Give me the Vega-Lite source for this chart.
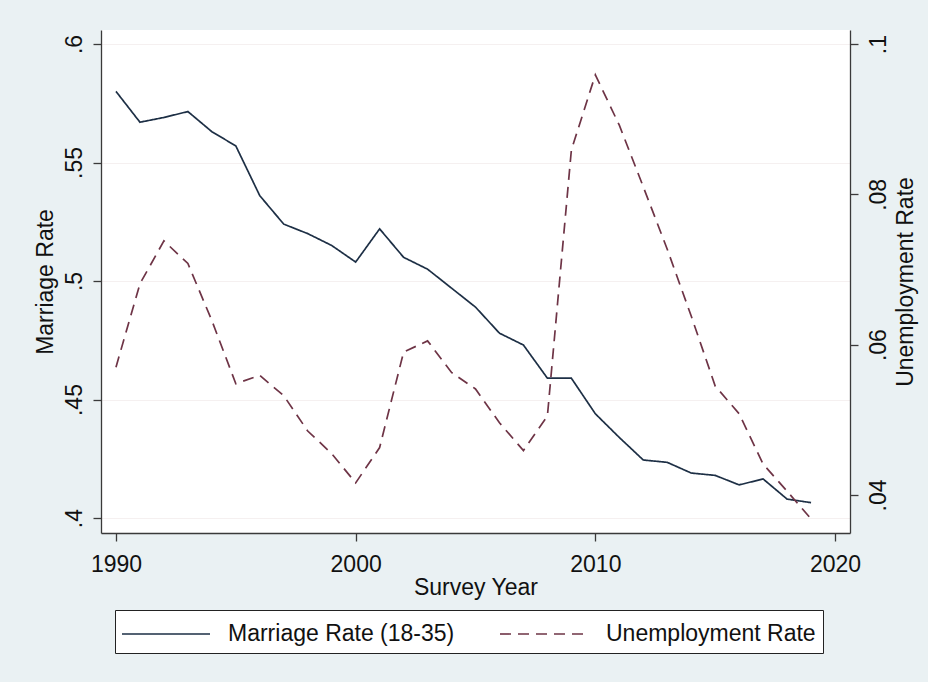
{
  "$schema": "https://vega.github.io/schema/vega-lite/v6.json",
  "width": 749,
  "height": 503,
  "autosize": {"type": "none"},
  "padding": {"left": 101, "top": 30, "right": 78, "bottom": 149},
  "background": "#eaf1f3",
  "config": {
    "view": {"fill": "#ffffff", "stroke": null},
    "font": "Liberation Sans",
    "axis": {
      "labelFont": "Liberation Sans",
      "titleFont": "Liberation Sans",
      "labelFontSize": 23,
      "titleFontSize": 23,
      "titleFontWeight": "normal",
      "labelColor": "#111111",
      "titleColor": "#111111",
      "domainColor": "#3a3a3a",
      "tickColor": "#3a3a3a",
      "domainWidth": 1.3,
      "tickWidth": 1.3,
      "tickSize": 8
    },
    "legend": {
      "orient": "none",
      "legendX": 14,
      "legendY": 580,
      "direction": "horizontal",
      "columns": 2,
      "padding": 7,
      "strokeColor": "#222222",
      "fillColor": "#ffffff",
      "symbolSize": 1024,
      "symbolStrokeWidth": 1.6,
      "symbolOffset": 27,
      "labelOffset": 45,
      "columnPadding": 41,
      "labelFont": "Liberation Sans",
      "labelFontSize": 23,
      "labelColor": "#111111",
      "labelLimit": 400
    }
  },
  "data": {
    "values": [
      {"year": 1990, "series": "Marriage Rate (18-35)", "value": 0.580},
      {"year": 1991, "series": "Marriage Rate (18-35)", "value": 0.567},
      {"year": 1992, "series": "Marriage Rate (18-35)", "value": 0.569},
      {"year": 1993, "series": "Marriage Rate (18-35)", "value": 0.5715},
      {"year": 1994, "series": "Marriage Rate (18-35)", "value": 0.563},
      {"year": 1995, "series": "Marriage Rate (18-35)", "value": 0.557},
      {"year": 1996, "series": "Marriage Rate (18-35)", "value": 0.536},
      {"year": 1997, "series": "Marriage Rate (18-35)", "value": 0.524},
      {"year": 1998, "series": "Marriage Rate (18-35)", "value": 0.520},
      {"year": 1999, "series": "Marriage Rate (18-35)", "value": 0.515},
      {"year": 2000, "series": "Marriage Rate (18-35)", "value": 0.508},
      {"year": 2001, "series": "Marriage Rate (18-35)", "value": 0.522},
      {"year": 2002, "series": "Marriage Rate (18-35)", "value": 0.510},
      {"year": 2003, "series": "Marriage Rate (18-35)", "value": 0.505},
      {"year": 2004, "series": "Marriage Rate (18-35)", "value": 0.497},
      {"year": 2005, "series": "Marriage Rate (18-35)", "value": 0.489},
      {"year": 2006, "series": "Marriage Rate (18-35)", "value": 0.478},
      {"year": 2007, "series": "Marriage Rate (18-35)", "value": 0.473},
      {"year": 2008, "series": "Marriage Rate (18-35)", "value": 0.459},
      {"year": 2009, "series": "Marriage Rate (18-35)", "value": 0.459},
      {"year": 2010, "series": "Marriage Rate (18-35)", "value": 0.444},
      {"year": 2011, "series": "Marriage Rate (18-35)", "value": 0.434},
      {"year": 2012, "series": "Marriage Rate (18-35)", "value": 0.4245},
      {"year": 2013, "series": "Marriage Rate (18-35)", "value": 0.4235},
      {"year": 2014, "series": "Marriage Rate (18-35)", "value": 0.419},
      {"year": 2015, "series": "Marriage Rate (18-35)", "value": 0.418},
      {"year": 2016, "series": "Marriage Rate (18-35)", "value": 0.414},
      {"year": 2017, "series": "Marriage Rate (18-35)", "value": 0.4165},
      {"year": 2018, "series": "Marriage Rate (18-35)", "value": 0.408},
      {"year": 2019, "series": "Marriage Rate (18-35)", "value": 0.4065},
      {"year": 1990, "series": "Unemployment Rate", "value": 0.0570},
      {"year": 1991, "series": "Unemployment Rate", "value": 0.0681},
      {"year": 1992, "series": "Unemployment Rate", "value": 0.0738},
      {"year": 1993, "series": "Unemployment Rate", "value": 0.0708},
      {"year": 1994, "series": "Unemployment Rate", "value": 0.0632},
      {"year": 1995, "series": "Unemployment Rate", "value": 0.0548},
      {"year": 1996, "series": "Unemployment Rate", "value": 0.0559},
      {"year": 1997, "series": "Unemployment Rate", "value": 0.0532},
      {"year": 1998, "series": "Unemployment Rate", "value": 0.0485},
      {"year": 1999, "series": "Unemployment Rate", "value": 0.0455},
      {"year": 2000, "series": "Unemployment Rate", "value": 0.0416},
      {"year": 2001, "series": "Unemployment Rate", "value": 0.0463},
      {"year": 2002, "series": "Unemployment Rate", "value": 0.0590},
      {"year": 2003, "series": "Unemployment Rate", "value": 0.0605},
      {"year": 2004, "series": "Unemployment Rate", "value": 0.0563},
      {"year": 2005, "series": "Unemployment Rate", "value": 0.0541},
      {"year": 2006, "series": "Unemployment Rate", "value": 0.0496},
      {"year": 2007, "series": "Unemployment Rate", "value": 0.0459},
      {"year": 2008, "series": "Unemployment Rate", "value": 0.0505},
      {"year": 2009, "series": "Unemployment Rate", "value": 0.0859},
      {"year": 2010, "series": "Unemployment Rate", "value": 0.0959},
      {"year": 2011, "series": "Unemployment Rate", "value": 0.0892},
      {"year": 2012, "series": "Unemployment Rate", "value": 0.0810},
      {"year": 2013, "series": "Unemployment Rate", "value": 0.0727},
      {"year": 2014, "series": "Unemployment Rate", "value": 0.0638},
      {"year": 2015, "series": "Unemployment Rate", "value": 0.0545},
      {"year": 2016, "series": "Unemployment Rate", "value": 0.0508},
      {"year": 2017, "series": "Unemployment Rate", "value": 0.0441},
      {"year": 2018, "series": "Unemployment Rate", "value": 0.0405},
      {"year": 2019, "series": "Unemployment Rate", "value": 0.0368}
    ]
  },
  "encoding": {
    "x": {
      "field": "year",
      "type": "quantitative",
      "scale": {"domain": [1989.375, 2020.625], "nice": false, "zero": false},
      "axis": {
        "values": [1990, 2000, 2010, 2020],
        "format": "d",
        "grid": false,
        "title": "Survey Year",
        "labelPadding": 12,
        "titlePadding": 0
      }
    },
    "color": {
      "field": "series",
      "type": "nominal",
      "scale": {"domain": ["Marriage Rate (18-35)", "Unemployment Rate"], "range": ["#1d2f45", "#6e3446"]},
      "legend": {"title": null, "symbolType": "M-2.75,0L2.75,0"}
    },
    "strokeDash": {
      "field": "series",
      "type": "nominal",
      "scale": {"domain": ["Marriage Rate (18-35)", "Unemployment Rate"], "range": [[1, 0], [11, 7]]},
      "legend": {"title": null, "symbolType": "M-2.75,0L2.75,0"}
    }
  },
  "layer": [
    {
      "transform": [{"filter": "datum.series === 'Marriage Rate (18-35)'"}],
      "mark": {"type": "line", "strokeWidth": 1.7},
      "encoding": {
        "y": {
          "field": "value",
          "type": "quantitative",
          "scale": {"domain": [0.3937, 0.6059], "nice": false, "zero": false},
          "axis": {
            "orient": "left",
            "values": [0.4, 0.45, 0.5, 0.55, 0.6],
            "labelExpr": "replace(format(datum.value, '~g'), '0.', '.')",
            "labelAngle": 270,
            "labelAlign": "center",
            "labelBaseline": "bottom",
            "labelPadding": 7,
            "title": "Marriage Rate",
            "titlePadding": 6,
            "grid": true,
            "gridColor": "#f5f0f0",
            "gridWidth": 1
          }
        }
      }
    },
    {
      "transform": [{"filter": "datum.series === 'Unemployment Rate'"}],
      "mark": {"type": "line", "strokeWidth": 1.7},
      "encoding": {
        "y": {
          "field": "value",
          "type": "quantitative",
          "scale": {"domain": [0.03493, 0.10187], "nice": false, "zero": false},
          "axis": {
            "orient": "right",
            "values": [0.04, 0.06, 0.08, 0.1],
            "labelExpr": "replace(format(datum.value, '~g'), '0.', '.')",
            "labelAngle": 270,
            "labelAlign": "center",
            "labelBaseline": "top",
            "labelPadding": 9,
            "title": "Unemployment Rate",
            "titleAngle": 270,
            "titleBaseline": "top",
            "titlePadding": 4,
            "grid": false
          }
        }
      }
    }
  ],
  "resolve": {"scale": {"y": "independent"}}
}
